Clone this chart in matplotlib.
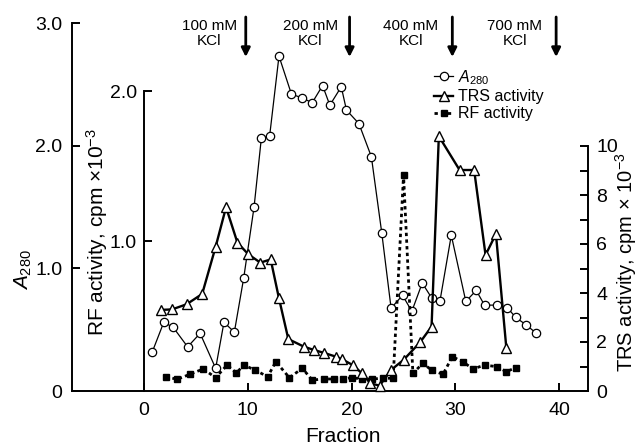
import matplotlib
matplotlib.use("Agg")
import matplotlib.pyplot as plt
import matplotlib.transforms as mtransforms

plt.rcParams['font.family'] = ['Liberation Sans', 'DejaVu Sans']
plt.rcParams['mathtext.fontset'] = 'custom'
plt.rcParams['mathtext.rm'] = 'Liberation Sans'
plt.rcParams['mathtext.it'] = 'Liberation Sans:italic'

# A280 (left axis)
a280_x = [0.8, 1.9, 2.8, 4.2, 5.4, 6.9, 7.7, 8.7, 9.6, 10.6, 11.3, 12.1, 13.0, 14.2,
          15.2, 16.2, 17.2, 17.9, 19.0, 19.5, 20.7, 21.9, 22.9, 23.8, 24.9, 25.8,
          26.8, 27.7, 28.5, 29.6, 31.0, 32.0, 32.8, 34.0, 35.0, 35.8, 36.8, 37.8]
a280 = [0.32, 0.56, 0.52, 0.36, 0.47, 0.185, 0.56, 0.48, 0.92, 1.50, 2.06, 2.08, 2.73,
        2.42, 2.39, 2.35, 2.49, 2.33, 2.48, 2.29, 2.18, 1.91, 1.29, 0.675, 0.78, 0.65,
        0.88, 0.76, 0.73, 1.27, 0.73, 0.82, 0.70, 0.70, 0.68, 0.60, 0.54, 0.47]

# TRS activity (right axis, cpm x 10^-3)
trs_x = [1.6, 2.7, 4.1, 5.6, 6.9, 7.9, 9.0, 10.05, 11.2, 12.2, 13.0, 13.9, 15.4, 16.4,
         17.3, 18.5, 19.1, 20.1, 21.0, 21.8, 22.7, 23.8, 25.0, 26.6, 27.7, 28.4, 30.4,
         31.8, 32.9, 33.9, 34.9]
trs = [3.31, 3.33, 3.54, 3.96, 5.89, 7.5, 6.05, 5.58, 5.24, 5.37, 3.78, 2.12, 1.81, 1.67,
       1.56, 1.40, 1.29, 1.06, 0.72, 0.31, 0.22, 0.86, 1.27, 1.99, 2.63, 10.4, 9.02,
       9.02, 5.55, 6.41, 1.77]

# RF activity (inner left axis, cpm x 10^-3)
rf_x = [2.1, 3.2, 4.4, 5.7, 6.9, 8.0, 8.9, 9.6, 10.7, 11.9, 12.7, 14.0, 15.25, 16.2,
        17.3, 18.3, 19.2, 20.0, 21.0, 22.0, 23.0, 24.0, 25.0, 25.9, 26.85, 27.7, 28.8,
        29.7, 30.7, 31.7, 32.8, 34.0, 34.9, 35.8]
rf = [0.095, 0.078, 0.111, 0.147, 0.089, 0.173, 0.12, 0.173, 0.14, 0.095, 0.195, 0.089,
      0.151, 0.073, 0.08, 0.08, 0.08, 0.089, 0.08, 0.08, 0.085, 0.085, 1.44, 0.118,
      0.184, 0.14, 0.111, 0.229, 0.195, 0.147, 0.173, 0.162, 0.129, 0.155]

# KCl steps
kcl_labels = ['100 mM\nKCl', '200 mM\nKCl', '400 mM\nKCl', '700 mM\nKCl']
kcl_text_x = [6.3, 16.0, 25.7, 35.7]
kcl_arrow_x = [9.8, 19.8, 29.7, 39.7]

W, H = 639, 445
L, R, B, T = 72, 588, 391, 23
fig = plt.figure(figsize=(W / 100, H / 100), dpi=100)
ax = fig.add_axes([L / W, 1 - B / H, (R - L) / W, (B - T) / H])
ax.set_xlim(-6.94, 42.77)
ax.set_ylim(0, 3.0)

ax2 = ax.twinx()
ax2.set_ylim(0, (B - T) / 150)
ax3 = ax.twinx()
ax3.set_ylim(0, (B - T) / 24.5)

lw_sp = 1.4
for s in ['top', 'right']:
    ax.spines[s].set_visible(False)
ax.spines['left'].set_linewidth(lw_sp)
ax.spines['bottom'].set_linewidth(lw_sp)
ax.set_yticks([0, 1, 2, 3])
ax.set_yticklabels(['0', '1.0', '2.0', '3.0'])
ax.set_xticks([0, 10, 20, 30, 40])
ax.tick_params(axis='y', direction='in', length=6, width=lw_sp, labelsize=14, pad=7)
ax.tick_params(axis='x', direction='in', length=6, width=lw_sp, labelsize=14, pad=8)

for s in ['top', 'right', 'bottom']:
    ax2.spines[s].set_visible(False)
ax2.spines['left'].set_visible(True)
ax2.spines['left'].set_position(('data', 0))
ax2.spines['left'].set_bounds(0, 2.0)
ax2.spines['left'].set_linewidth(lw_sp)
ax2.yaxis.set_ticks_position('left')
ax2.set_yticks([1.0, 2.0])
ax2.set_yticklabels(['1.0', '2.0'])
ax2.tick_params(axis='y', direction='in', length=6, width=lw_sp, labelsize=14, pad=5)

for s in ['top', 'left', 'bottom']:
    ax3.spines[s].set_visible(False)
ax3.spines['right'].set_bounds(0, 10)
ax3.spines['right'].set_linewidth(lw_sp)
ax3.set_yticks([0, 2, 4, 6, 8, 10])
ax3.set_yticks([1, 3, 5, 7, 9], minor=True)
ax3.tick_params(axis='y', which='both', direction='in', length=6, width=lw_sp,
                labelsize=14, pad=6)

l1, = ax.plot(a280_x, a280, '-', color='black', lw=0.9, marker='o', ms=6,
              mfc='white', mec='black', mew=0.9, clip_on=False,
              label=r'$\mathit{A}_{\mathrm{280}}$')
l3, = ax2.plot(rf_x, rf, color='black', lw=2, linestyle=(0, (1.2, 1.2)), marker='s',
               ms=5, mfc='black', mec='black', clip_on=False, label='RF activity')
l2, = ax3.plot(trs_x, trs, '-', color='black', lw=1.7, marker='^', ms=6.5,
               mfc='white', mec='black', mew=1.0, clip_on=False, label='TRS activity')

ax3.legend(handles=[l1, l2, l3], loc='upper left', bbox_to_anchor=(434 / W, 1 - 68 / H),
           bbox_transform=fig.transFigure, frameon=False, fontsize=11.5,
           handlelength=1.2, handletextpad=0.3, labelspacing=0.15, borderpad=0,
           borderaxespad=0)

trans = mtransforms.blended_transform_factory(ax.transData, fig.transFigure)
for lab, tx, axx in zip(kcl_labels, kcl_text_x, kcl_arrow_x):
    ax3.text(tx, 1 - 33.5 / H, lab, transform=trans, ha='center', va='center',
             fontsize=11, linespacing=1.15)
    ax3.annotate('', xy=(axx, H - 57), xytext=(axx, H - 17),
                 xycoords=('data', 'figure pixels'), textcoords=('data', 'figure pixels'),
                 arrowprops=dict(arrowstyle='-|>', lw=2, color='black',
                                 mutation_scale=13, shrinkA=0, shrinkB=0),
                 annotation_clip=False)

fig.text(23 / W, 1 - 270 / H, r'$\mathit{A}_{\mathrm{280}}$', rotation=90,
         ha='center', va='center', fontsize=15)
fig.text(97 / W, 1 - 232 / H, r'RF activity, cpm $\times$10$^{-3}$', rotation=90,
         ha='center', va='center', fontsize=15)
fig.text(626 / W, 1 - 262 / H, r'TRS activity, cpm $\times$ 10$^{-3}$', rotation=90,
         ha='center', va='center', fontsize=14.5)
fig.text(343 / W, 1 - 437 / H, 'Fraction', ha='center', va='center', fontsize=15)

fig.savefig('out.png', dpi=100)
